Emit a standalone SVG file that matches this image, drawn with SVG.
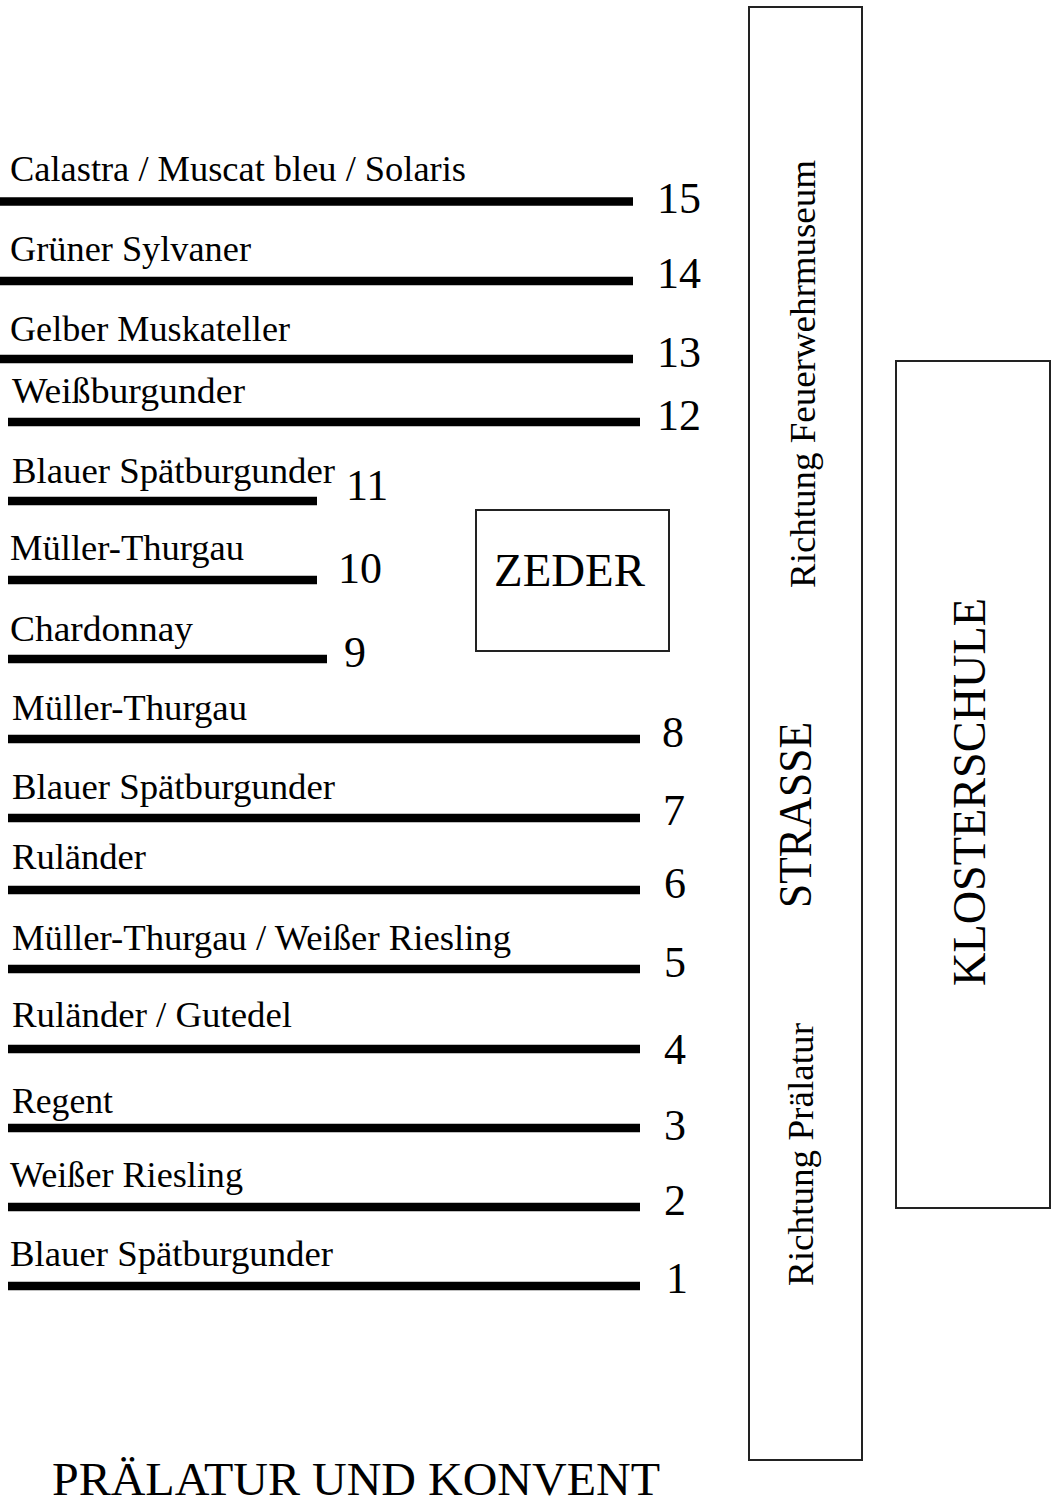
<svg xmlns="http://www.w3.org/2000/svg" width="1056" height="1502" viewBox="0 0 1056 1502">
<style>
.lbl{font-family:"Liberation Serif","Times New Roman",serif;font-size:35px;fill:#000}
.num{font-family:"Liberation Serif","Times New Roman",serif;font-size:44px;fill:#000}
.big{font-family:"Liberation Serif","Times New Roman",serif;font-size:46px;fill:#000}
.row{stroke:#000;stroke-width:8.5;fill:none}
.box{stroke:#222;stroke-width:2;fill:#fff}
</style>
<rect width="1056" height="1502" fill="#fff"/>
<g id="strasse">
<rect class="box" x="749" y="7" width="113" height="1453"/>
<text class="lbl" font-size="33" transform="translate(815,588) rotate(-90)" textLength="428" lengthAdjust="spacingAndGlyphs">Richtung Feuerwehrmuseum</text>
<text class="big" font-size="43" transform="translate(811,908) rotate(-90)" textLength="186" lengthAdjust="spacingAndGlyphs">STRASSE</text>
<text class="lbl" font-size="33" transform="translate(813,1286) rotate(-90)" textLength="263" lengthAdjust="spacingAndGlyphs">Richtung Prälatur</text>
</g>
<g id="klosterschule">
<rect class="box" x="896" y="361" width="154" height="847"/>
<text class="big" transform="translate(985,986) rotate(-90)" textLength="388" lengthAdjust="spacingAndGlyphs">KLOSTERSCHULE</text>
</g>
<g id="zeder">
<rect class="box" x="476" y="510" width="193" height="141"/>
<text class="big" x="494" y="586" textLength="151" lengthAdjust="spacingAndGlyphs">ZEDER</text>
</g>
<g id="praelatur">
<text class="big" x="52" y="1495" textLength="608" lengthAdjust="spacingAndGlyphs">PRÄLATUR UND KONVENT</text>
</g>
<g id="rows">
<g id="row15"><line class="row" x1="0" y1="201.5" x2="633" y2="201.5"/><text class="lbl" x="10" y="181" textLength="456" lengthAdjust="spacingAndGlyphs">Calastra / Muscat bleu / Solaris</text><text class="num" x="657" y="213">15</text></g>
<g id="row14"><line class="row" x1="0" y1="281" x2="633" y2="281"/><text class="lbl" x="10" y="261" textLength="241" lengthAdjust="spacingAndGlyphs">Grüner Sylvaner</text><text class="num" x="657" y="288">14</text></g>
<g id="row13"><line class="row" x1="0" y1="359" x2="633" y2="359"/><text class="lbl" x="10" y="341" textLength="280" lengthAdjust="spacingAndGlyphs">Gelber Muskateller</text><text class="num" x="657" y="367">13</text></g>
<g id="row12"><line class="row" x1="8" y1="422" x2="640" y2="422"/><text class="lbl" x="12" y="403" textLength="233" lengthAdjust="spacingAndGlyphs">Weißburgunder</text><text class="num" x="657" y="430">12</text></g>
<g id="row11"><line class="row" x1="8" y1="501" x2="317" y2="501"/><text class="lbl" x="12" y="483" textLength="323" lengthAdjust="spacingAndGlyphs">Blauer Spätburgunder</text><text class="num" x="346" y="500">11</text></g>
<g id="row10"><line class="row" x1="8" y1="580" x2="317" y2="580"/><text class="lbl" x="10" y="560" textLength="234" lengthAdjust="spacingAndGlyphs">Müller-Thurgau</text><text class="num" x="338" y="583">10</text></g>
<g id="row9"><line class="row" x1="8" y1="659" x2="327" y2="659"/><text class="lbl" x="10" y="641" textLength="183" lengthAdjust="spacingAndGlyphs">Chardonnay</text><text class="num" x="344" y="667">9</text></g>
<g id="row8"><line class="row" x1="8" y1="739" x2="640" y2="739"/><text class="lbl" x="12" y="720" textLength="235" lengthAdjust="spacingAndGlyphs">Müller-Thurgau</text><text class="num" x="662" y="747">8</text></g>
<g id="row7"><line class="row" x1="8" y1="818" x2="640" y2="818"/><text class="lbl" x="12" y="799" textLength="323" lengthAdjust="spacingAndGlyphs">Blauer Spätburgunder</text><text class="num" x="663" y="825">7</text></g>
<g id="row6"><line class="row" x1="8" y1="890" x2="640" y2="890"/><text class="lbl" x="12" y="869" textLength="134" lengthAdjust="spacingAndGlyphs">Ruländer</text><text class="num" x="664" y="898">6</text></g>
<g id="row5"><line class="row" x1="8" y1="969" x2="640" y2="969"/><text class="lbl" x="12" y="950" textLength="499" lengthAdjust="spacingAndGlyphs">Müller-Thurgau / Weißer Riesling</text><text class="num" x="664" y="977">5</text></g>
<g id="row4"><line class="row" x1="8" y1="1049" x2="640" y2="1049"/><text class="lbl" x="12" y="1027" textLength="280" lengthAdjust="spacingAndGlyphs">Ruländer / Gutedel</text><text class="num" x="664" y="1064">4</text></g>
<g id="row3"><line class="row" x1="8" y1="1128" x2="640" y2="1128"/><text class="lbl" x="12" y="1113" textLength="101" lengthAdjust="spacingAndGlyphs">Regent</text><text class="num" x="664" y="1140">3</text></g>
<g id="row2"><line class="row" x1="8" y1="1207" x2="640" y2="1207"/><text class="lbl" x="10" y="1187" textLength="233" lengthAdjust="spacingAndGlyphs">Weißer Riesling</text><text class="num" x="664" y="1215">2</text></g>
<g id="row1"><line class="row" x1="8" y1="1286" x2="640" y2="1286"/><text class="lbl" x="10" y="1266" textLength="323" lengthAdjust="spacingAndGlyphs">Blauer Spätburgunder</text><text class="num" x="666" y="1293">1</text></g>
</g>
</svg>
